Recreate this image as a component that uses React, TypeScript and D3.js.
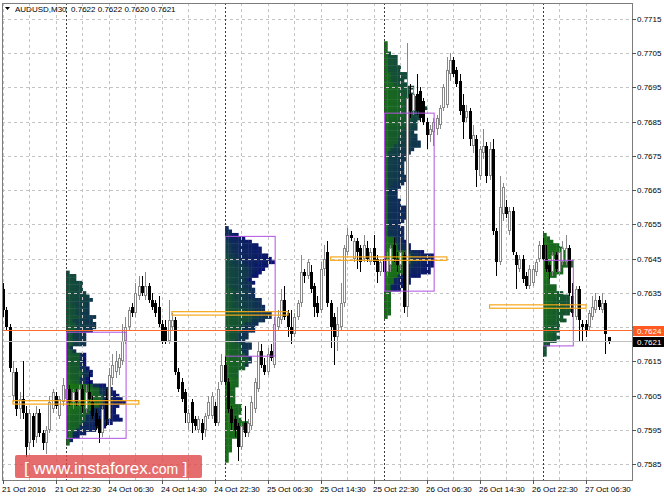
import * as d3 from 'd3'

// [open, high, low, close] per M30 bar
type Bar = [number, number, number, number]

const day21: Bar[] = [
  [0.7636, 0.7638, 0.7628, 0.7630], [0.7630, 0.7631, 0.7624, 0.7625], [0.7625, 0.7626, 0.7612, 0.7613],
  [0.7605, 0.7615, 0.7603, 0.7612], [0.7612, 0.7613, 0.7599, 0.7601], [0.7601, 0.7606, 0.7598, 0.7604],
  [0.7604, 0.7615, 0.7598, 0.7600], [0.7600, 0.7602, 0.7587, 0.7590], [0.7591, 0.7601, 0.7589, 0.7600],
  [0.7599, 0.7600, 0.7590, 0.7592], [0.7593, 0.7602, 0.7591, 0.7600], [0.7600, 0.7601, 0.7593, 0.7594],
  [0.7594, 0.7595, 0.7589, 0.7591], [0.7591, 0.7596, 0.7588, 0.7595], [0.7595, 0.7605, 0.7594, 0.7603],
  [0.7601, 0.7607, 0.7600, 0.7606], [0.7605, 0.7606, 0.7601, 0.7602], [0.7599, 0.7605, 0.7598, 0.7604],
  [0.7603, 0.7610, 0.7602, 0.7608],
]

const day24: Bar[] = [
  [0.7604, 0.7609, 0.7603, 0.7607], [0.7607, 0.7608, 0.7602, 0.7603], [0.7603, 0.7607, 0.7601, 0.7606],
  [0.7606, 0.7607, 0.7602, 0.7603], [0.7603, 0.7608, 0.7602, 0.7607], [0.7607, 0.7608, 0.7600, 0.7602],
  [0.7601, 0.7608, 0.7600, 0.7606], [0.7606, 0.7612, 0.7603, 0.7604], [0.7603, 0.7605, 0.7598, 0.7599],
  [0.7600, 0.7601, 0.7595, 0.7596], [0.7598, 0.7599, 0.7591, 0.7594], [0.7594, 0.7602, 0.7593, 0.7601],
  [0.7604, 0.7607, 0.7596, 0.7598], [0.7598, 0.7613, 0.7597, 0.7611], [0.7610, 0.7617, 0.7608, 0.7614],
  [0.7612, 0.7618, 0.7610, 0.7615], [0.7613, 0.7617, 0.7611, 0.7616], [0.7615, 0.7626, 0.7614, 0.7621],
  [0.7621, 0.7628, 0.7620, 0.7625], [0.7625, 0.7631, 0.7624, 0.7630], [0.7631, 0.7632, 0.7628, 0.7629],
  [0.7629, 0.7638, 0.7628, 0.7635], [0.7634, 0.7640, 0.7633, 0.7637], [0.7637, 0.7640, 0.7634, 0.7635],
  [0.7634, 0.7641, 0.7633, 0.7637], [0.7637, 0.7638, 0.7632, 0.7633], [0.7633, 0.7635, 0.7630, 0.7631],
  [0.7632, 0.7633, 0.7628, 0.7629], [0.7631, 0.7634, 0.7625, 0.7626], [0.7626, 0.7627, 0.7620, 0.7621],
  [0.7625, 0.7627, 0.7620, 0.7621], [0.7621, 0.7633, 0.7620, 0.7627], [0.7625, 0.7629, 0.7624, 0.7627],
  [0.7627, 0.7628, 0.7611, 0.7612], [0.7612, 0.7613, 0.7606, 0.7607], [0.7609, 0.7610, 0.7603, 0.7604],
  [0.7606, 0.7607, 0.7597, 0.7600], [0.7597, 0.7601, 0.7595, 0.7600], [0.7603, 0.7604, 0.7594, 0.7597],
  [0.7598, 0.7599, 0.7595, 0.7596], [0.7595, 0.7599, 0.7594, 0.7598], [0.7597, 0.7598, 0.7592, 0.7594],
  [0.7595, 0.7600, 0.7593, 0.7599], [0.7599, 0.7605, 0.7598, 0.7603], [0.7599, 0.7606, 0.7598, 0.7605],
  [0.7602, 0.7603, 0.7596, 0.7597], [0.7597, 0.7609, 0.7596, 0.7607], [0.7609, 0.7617, 0.7608, 0.7614],
]

const day25: Bar[] = [
  [0.7614, 0.7617, 0.7608, 0.7609], [0.7609, 0.7610, 0.7600, 0.7601], [0.7601, 0.7602, 0.7595, 0.7597],
  [0.7598, 0.7599, 0.7593, 0.7595], [0.7596, 0.7597, 0.7586, 0.7590], [0.7590, 0.7597, 0.7589, 0.7596],
  [0.7597, 0.7602, 0.7593, 0.7594], [0.7594, 0.7598, 0.7593, 0.7597], [0.7596, 0.7605, 0.7595, 0.7603],
  [0.7601, 0.7610, 0.7600, 0.7609], [0.7607, 0.7621, 0.7606, 0.7618], [0.7618, 0.7620, 0.7613, 0.7614],
  [0.7614, 0.7616, 0.7611, 0.7612], [0.7612, 0.7619, 0.7611, 0.7617], [0.7618, 0.7620, 0.7615, 0.7616],
  [0.7614, 0.7628, 0.7613, 0.7626], [0.7625, 0.7630, 0.7624, 0.7628], [0.7627, 0.7636, 0.7626, 0.7633],
  [0.7633, 0.7637, 0.7627, 0.7628], [0.7629, 0.7630, 0.7622, 0.7625], [0.7625, 0.7630, 0.7620, 0.7623],
  [0.7623, 0.7629, 0.7622, 0.7628], [0.7628, 0.7633, 0.7627, 0.7632], [0.7632, 0.7646, 0.7631, 0.7641],
  [0.7641, 0.7642, 0.7638, 0.7640], [0.7640, 0.7645, 0.7639, 0.7644], [0.7641, 0.7643, 0.7635, 0.7636],
  [0.7637, 0.7638, 0.7628, 0.7631], [0.7632, 0.7634, 0.7628, 0.7629], [0.7630, 0.7644, 0.7629, 0.7642],
  [0.7642, 0.7649, 0.7640, 0.7645], [0.7647, 0.7650, 0.7631, 0.7632], [0.7632, 0.7633, 0.7619, 0.7625],
  [0.7628, 0.7629, 0.7614, 0.7622], [0.7622, 0.7631, 0.7618, 0.7626], [0.7625, 0.7638, 0.7624, 0.7632],
  [0.7632, 0.7649, 0.7631, 0.7648], [0.7647, 0.7654, 0.7646, 0.7652], [0.7652, 0.7653, 0.7650, 0.7651],
  [0.7645, 0.7651, 0.7644, 0.7650], [0.7650, 0.7651, 0.7642, 0.7647], [0.7648, 0.7649, 0.7641, 0.7644],
  [0.7645, 0.7652, 0.7644, 0.7649], [0.7648, 0.7650, 0.7644, 0.7645], [0.7644, 0.7648, 0.7643, 0.7647],
  [0.7648, 0.7652, 0.7643, 0.7644], [0.7645, 0.7646, 0.7638, 0.7641], [0.7641, 0.7645, 0.7640, 0.7644],
]

const day26: Bar[] = [
  [0.7645, 0.7646, 0.7638, 0.7641], [0.7641, 0.7647, 0.7640, 0.7645], [0.7643, 0.7649, 0.7641, 0.7648],
  [0.7649, 0.7651, 0.7644, 0.7645], [0.7645, 0.7647, 0.7641, 0.7643], [0.7643, 0.7651, 0.7642, 0.7647],
  [0.7646, 0.7647, 0.7629, 0.7631], [0.7631, 0.7708, 0.7628, 0.7692], [0.7693, 0.7696, 0.7686, 0.7688],
  [0.7688, 0.7695, 0.7687, 0.7693], [0.7693, 0.7699, 0.7687, 0.7688], [0.7694, 0.7695, 0.7685, 0.7686],
  [0.7691, 0.7692, 0.7684, 0.7685], [0.7685, 0.7686, 0.7677, 0.7681], [0.7681, 0.7684, 0.7679, 0.7683],
  [0.7682, 0.7686, 0.7678, 0.7685], [0.7683, 0.7687, 0.7681, 0.7686], [0.7684, 0.7690, 0.7683, 0.7689],
  [0.7689, 0.7696, 0.7688, 0.7695], [0.7690, 0.7704, 0.7689, 0.7700], [0.7699, 0.7705, 0.7697, 0.7703],
  [0.7703, 0.7704, 0.7698, 0.7699], [0.7700, 0.7701, 0.7695, 0.7696], [0.7697, 0.7699, 0.7687, 0.7688],
  [0.7690, 0.7693, 0.7680, 0.7685], [0.7686, 0.7690, 0.7685, 0.7688], [0.7688, 0.7689, 0.7678, 0.7680],
  [0.7678, 0.7684, 0.7676, 0.7681], [0.7680, 0.7681, 0.7666, 0.7671], [0.7669, 0.7678, 0.7668, 0.7677],
  [0.7676, 0.7683, 0.7674, 0.7678], [0.7678, 0.7679, 0.7667, 0.7669], [0.7669, 0.7679, 0.7668, 0.7677],
  [0.7677, 0.7680, 0.7652, 0.7653], [0.7653, 0.7654, 0.7640, 0.7644], [0.7644, 0.7669, 0.7643, 0.7660],
  [0.7658, 0.7667, 0.7656, 0.7666], [0.7660, 0.7662, 0.7657, 0.7658], [0.7653, 0.7660, 0.7652, 0.7659],
  [0.7659, 0.7660, 0.7646, 0.7647], [0.7646, 0.7647, 0.7636, 0.7643], [0.7642, 0.7646, 0.7641, 0.7645],
  [0.7645, 0.7646, 0.7638, 0.7639], [0.7640, 0.7641, 0.7636, 0.7637], [0.7637, 0.7643, 0.7636, 0.7642],
  [0.7638, 0.7643, 0.7637, 0.7642], [0.7641, 0.7645, 0.7640, 0.7644], [0.7645, 0.7650, 0.7644, 0.7649],
]

const day27: Bar[] = [
  [0.7649, 0.7651, 0.7643, 0.7645], [0.7645, 0.7649, 0.7641, 0.7642], [0.7643, 0.7644, 0.7639, 0.7641],
  [0.7641, 0.7647, 0.7640, 0.7646], [0.7646, 0.7647, 0.7641, 0.7642], [0.7641, 0.7648, 0.7640, 0.7647],
  [0.7644, 0.7650, 0.7643, 0.7648], [0.7644, 0.7652, 0.7643, 0.7648], [0.7648, 0.7649, 0.7634, 0.7635],
  [0.7634, 0.7638, 0.7628, 0.7629], [0.7628, 0.7637, 0.7627, 0.7636], [0.7636, 0.7637, 0.7621, 0.7627],
  [0.7626, 0.7627, 0.7621, 0.7625], [0.7626, 0.7627, 0.7622, 0.7624], [0.7625, 0.7630, 0.7624, 0.7629],
  [0.7628, 0.7634, 0.7627, 0.7631], [0.7630, 0.7635, 0.7629, 0.7633], [0.7633, 0.7634, 0.7630, 0.7631],
  [0.7630, 0.7635, 0.7629, 0.7632], [0.7632, 0.7633, 0.7617, 0.7623], [0.7622, 0.7622, 0.7620, 0.7621],
]

const priceTicks = [0.7715, 0.7705, 0.7695, 0.7685, 0.7675, 0.7665, 0.7655, 0.7645, 0.7635, 0.7625, 0.7615, 0.7605, 0.7595, 0.7585]
const timeLabels = ['21 Oct 2016', '21 Oct 22:30', '24 Oct 06:30', '24 Oct 14:30', '24 Oct 22:30', '25 Oct 06:30',
  '25 Oct 14:30', '25 Oct 22:30', '26 Oct 06:30', '26 Oct 14:30', '26 Oct 22:30', '27 Oct 06:30']

// market profile levels for 24, 25, 26, 27 Oct
const pocPrices = [0.7603, 0.7629, 0.7645, 0.7631]
const valueHigh = [0.7623, 0.7651, 0.7687, 0.7644]
const valueLow = [0.7593, 0.7617, 0.7636, 0.7620]

const bidPrice = 0.7621
const askPrice = 0.7624
const header = 'AUDUSD,M30  0.7622 0.7622 0.7620 0.7621'

const sessions = [day21, day24, day25, day26, day27]
const bars = sessions.flat()
const step = 3.31
const pip = 0.0001
const font = '"Liberation Sans", Arial, sans-serif'

const tpoColor = (t: number) => d3.interpolateRgb('#1a7414', '#0b146e')(Math.pow(t, 1.15))

export default function App() {
  const width = 664
  const height = 498
  const plot = { left: 2, right: 632, top: 3, bottom: 480 }

  const x = d3.scaleLinear().domain([0, bars.length - 1]).range([3, 3 + step * (bars.length - 1)])
  const y = d3.scaleLinear().domain([0.7585, 0.7715]).range([464, 19])
  const cx = (i: number) => Math.round(x(i))
  const cy = (p: number) => Math.round(y(p))

  const starts: number[] = []
  sessions.reduce((acc, s) => { starts.push(acc); return acc + s.length }, 0)

  // TPO profiles for the last four sessions, one block per bar in time order
  const profiles = sessions.slice(1).map((s, si) => {
    const start = starts[si + 1]
    const rows = new Map<number, number[]>()
    s.forEach((b, k) => {
      for (let lv = Math.round(b[2] / pip); lv <= Math.round(b[1] / pip); lv++) {
        if (!rows.has(lv)) rows.set(lv, [])
        rows.get(lv)!.push(k)
      }
    })
    const maxCount = d3.max(Array.from(rows.values()), r => r.length) || 0
    const x0 = Math.round(x(start))
    return { start, rows, maxCount, x0 }
  })

  const gridX = d3.range(0, bars.length, 8)
  const shownTicks = priceTicks.filter(p => Math.abs(cy(p) - cy(askPrice)) > 7 && Math.abs(cy(p) - cy(bidPrice)) > 7)

  return (
    <svg width={width} height={height} style={{ position: 'absolute', left: 0, top: 0, background: '#fff' }}
      fontFamily={font}>
      <defs>
        <clipPath id="plot">
          <rect x={plot.left} y={plot.top} width={plot.right - plot.left} height={plot.bottom - plot.top} />
        </clipPath>
      </defs>
      <rect width={width} height={height} fill="#fff" />

      <g clipPath="url(#plot)">
        {profiles.map((pr, pi) => {
          const rects: JSX.Element[] = []
          pr.rows.forEach((list, lv) => {
            const y1 = y((lv + 0.5) * pip)
            const y2 = y((lv - 0.5) * pip)
            list.forEach((k, j) => {
              rects.push(
                <rect key={`${lv}-${j}`} x={pr.x0 + j * step} y={y1} width={step + 0.4} height={y2 - y1 + 0.4}
                  fill={tpoColor(k / 47)} />
              )
            })
          })
          return <g key={pi}>{rects}</g>
        })}

        {priceTicks.map(p => (
          <line key={p} x1={plot.left} x2={plot.right} y1={cy(p) + 0.5} y2={cy(p) + 0.5}
            stroke="#c4c4c4" strokeDasharray="3,3" />
        ))}
        {gridX.map(i => (
          <line key={i} x1={cx(i) + 0.5} x2={cx(i) + 0.5} y1={plot.top} y2={plot.bottom}
            stroke="#c4c4c4" strokeDasharray="3,3" />
        ))}
        {starts.slice(1).map(i => (
          <line key={i} x1={cx(i) + 0.5} x2={cx(i) + 0.5} y1={plot.top} y2={plot.bottom}
            stroke="#3c3c3c" strokeDasharray="2,2" />
        ))}

        {bars.map((b, i) => {
          const [o, h, l, c] = b
          const up = c >= o
          const xc = cx(i)
          const top = cy(Math.max(o, c))
          const bh = Math.max(1, cy(Math.min(o, c)) - top)
          return (
            <g key={i}>
              <rect x={xc} y={cy(h)} width={1} height={Math.max(1, cy(l) - cy(h))} fill={up ? '#888' : '#000'} />
              <rect x={xc - 1} y={top} width={3} height={bh} fill={up ? '#888' : '#000'} />
              {up && bh > 2 && <rect x={xc} y={top + 1} width={1} height={bh - 2} fill="#fff" />}
            </g>
          )
        })}

        {profiles.map((pr, pi) => {
          const right = pr.x0 + pr.maxCount * step
          const vt = y(valueHigh[pi] + pip / 2)
          const vb = y(valueLow[pi] - pip / 2)
          const pt = y(pocPrices[pi] + pip / 2)
          const pb = y(pocPrices[pi] - pip / 2)
          return (
            <g key={pi}>
              <rect x={pr.x0 + 0.5} y={vt} width={right - pr.x0} height={vb - vt}
                fill="none" stroke="#b151e0" strokeWidth={1} />
              <rect x={x(pr.start - 16)} y={pt} width={right + 4 * step - x(pr.start - 16)} height={pb - pt}
                fill="none" stroke="#f7a81b" strokeWidth={1.2} />
            </g>
          )
        })}

        <line x1={plot.left} x2={plot.right} y1={cy(askPrice) + 0.5} y2={cy(askPrice) + 0.5} stroke="#ff6a2e" />
        <line x1={plot.left} x2={plot.right} y1={cy(bidPrice) + 0.5} y2={cy(bidPrice) + 0.5} stroke="#c0c0c0" />
      </g>

      <rect x={plot.left + 0.5} y={plot.top + 0.5} width={plot.right - plot.left} height={plot.bottom - plot.top}
        fill="none" stroke="#7c7c7c" />

      {priceTicks.map(p => (
        <line key={p} x1={plot.right} x2={plot.right + 4} y1={cy(p) + 0.5} y2={cy(p) + 0.5} stroke="#555" />
      ))}
      {shownTicks.map(p => (
        <text key={p} x={637} y={cy(p) + 3} fontSize={8} fill="#000">{p.toFixed(4)}</text>
      ))}

      <rect x={633} y={cy(askPrice) - 4} width={31} height={10} fill="#ff5a22" />
      <text x={637} y={cy(askPrice) + 4} fontSize={8} fill="#fff">{askPrice.toFixed(4)}</text>
      <rect x={633} y={cy(bidPrice) - 4} width={31} height={10} fill="#000" />
      <text x={637} y={cy(bidPrice) + 4} fontSize={8} fill="#fff">{bidPrice.toFixed(4)}</text>

      {timeLabels.map((t, k) => (
        <g key={t}>
          <line x1={cx(k * 16) + 0.5} x2={cx(k * 16) + 0.5} y1={plot.bottom} y2={plot.bottom + 4} stroke="#555" />
          <text x={cx(k * 16) - 1} y={492} fontSize={8} fill="#000">{t}</text>
        </g>
      ))}

      <path d="M5,7 L10,7 L7.5,10 Z" fill="#000" />
      <text x={15} y={12} fontSize={8} fill="#000" style={{ whiteSpace: 'pre' }}>{header}</text>

      <rect x={15} y={455} width={187} height={23} rx={2} fill="rgb(222,72,72)" opacity={0.8} />
      <text x={24} y={474} fill="#fff" fontSize={17}>
        <tspan>[ </tspan>
        <tspan>www.instaforex</tspan>
        <tspan fontSize={14}>.com</tspan>
        <tspan> ]</tspan>
      </text>
    </svg>
  )
}
